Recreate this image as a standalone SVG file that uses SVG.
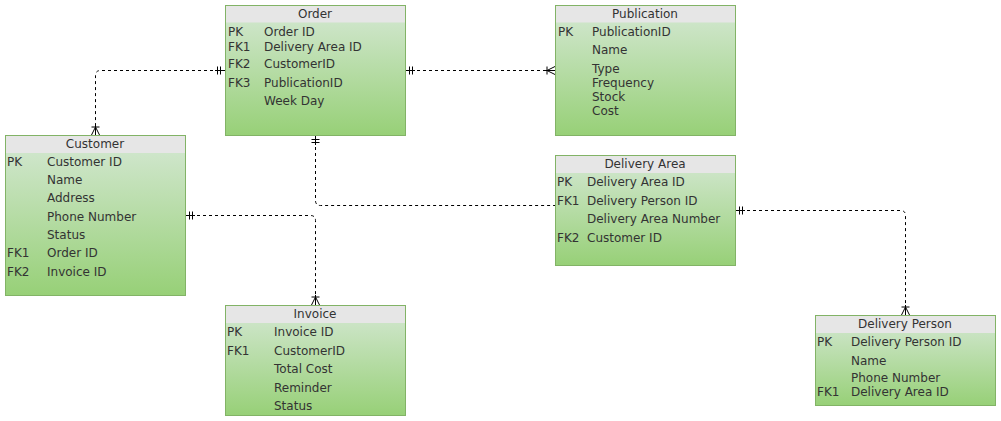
<svg xmlns="http://www.w3.org/2000/svg" width="1001" height="421" viewBox="0 0 1001 421">
<style>
.body{stroke:#82b366;stroke-width:1;fill:url(#g)}
.head{fill:#e6e6e6}
text{font-family:"DejaVu Sans",Verdana,sans-serif;font-size:12px;fill:#333}
.t{text-anchor:middle}
.c{fill:none;stroke:#000;stroke-width:1;stroke-dasharray:3 3}
.m{fill:none;stroke:#000;stroke-width:1}
</style>
<defs>
<linearGradient id="g" x1="0" y1="0" x2="0" y2="1">
<stop offset="0" stop-color="#d5e8d4"/>
<stop offset="1" stop-color="#97d077"/>
</linearGradient>
<marker id="one" viewBox="0 0 10 10" refX="10" refY="5" markerWidth="10" markerHeight="10" markerUnits="userSpaceOnUse" orient="auto-start-reverse">
<path class="m" d="M2.5,1V9M5.5,1V9M0,5H10"/>
</marker>
<marker id="many" viewBox="0 0 10 10" refX="10" refY="5" markerWidth="10" markerHeight="10" markerUnits="userSpaceOnUse" orient="auto-start-reverse">
<path class="m" d="M2,1V9M0,5H10M2,5L10,1M2,5L10,9"/>
</marker>
</defs>
<g id="connectors">
<path class="c" d="M225,70.5H100.5Q95.5,70.5 95.5,75.5V135" marker-start="url(#one)" marker-end="url(#many)"/>
<path class="c" d="M405,70.5H555" marker-start="url(#one)" marker-end="url(#many)"/>
<path class="c" d="M315.5,135V200.5Q315.5,205.5 320.5,205.5H555" marker-start="url(#one)"/>
<path class="c" d="M185,215.5H310.5Q315.5,215.5 315.5,220.5V305" marker-start="url(#one)" marker-end="url(#many)"/>
<path class="c" d="M735,210.5H900.5Q905.5,210.5 905.5,215.5V315" marker-start="url(#one)" marker-end="url(#many)"/>
</g>
<g id="order">
<rect class="body" x="225.5" y="5.5" width="180" height="130"/>
<rect class="head" x="226" y="6" width="179" height="16.5"/>
<text class="t" x="315" y="18">Order</text>
<text x="228" y="36">PK</text><text x="264" y="36">Order ID</text>
<text x="228" y="51">FK1</text><text x="264" y="51">Delivery Area ID</text>
<text x="228" y="68">FK2</text><text x="264" y="68">CustomerID</text>
<text x="228" y="87">FK3</text><text x="264" y="87">PublicationID</text>
<text x="264" y="105">Week Day</text>
</g>
<g id="publication">
<rect class="body" x="555.5" y="5.5" width="180" height="130"/>
<rect class="head" x="556" y="6" width="179" height="16.5"/>
<text class="t" x="645" y="18">Publication</text>
<text x="558" y="36">PK</text><text x="592" y="36">PublicationID</text>
<text x="592" y="54">Name</text>
<text x="592" y="73">Type</text>
<text x="592" y="87">Frequency</text>
<text x="592" y="101">Stock</text>
<text x="592" y="115">Cost</text>
</g>
<g id="customer">
<rect class="body" x="5.5" y="135.5" width="180" height="160"/>
<rect class="head" x="6" y="136" width="179" height="17"/>
<text class="t" x="95" y="148">Customer</text>
<text x="7" y="166">PK</text><text x="47" y="166">Customer ID</text>
<text x="47" y="184">Name</text>
<text x="47" y="202">Address</text>
<text x="47" y="221">Phone Number</text>
<text x="47" y="239">Status</text>
<text x="7" y="257">FK1</text><text x="47" y="257">Order ID</text>
<text x="7" y="276">FK2</text><text x="47" y="276">Invoice ID</text>
</g>
<g id="delivery-area">
<rect class="body" x="555.5" y="155.5" width="180" height="110"/>
<rect class="head" x="556" y="156" width="179" height="17"/>
<text class="t" x="645" y="168">Delivery Area</text>
<text x="557" y="186">PK</text><text x="587" y="186">Delivery Area ID</text>
<text x="557" y="205">FK1</text><text x="587" y="205">Delivery Person ID</text>
<text x="587" y="223">Delivery Area Number</text>
<text x="557" y="242">FK2</text><text x="587" y="242">Customer ID</text>
</g>
<g id="invoice">
<rect class="body" x="225.5" y="305.5" width="180" height="110"/>
<rect class="head" x="226" y="306" width="179" height="17"/>
<text class="t" x="315" y="318">Invoice</text>
<text x="227" y="336">PK</text><text x="274" y="336">Invoice ID</text>
<text x="227" y="355">FK1</text><text x="274" y="355">CustomerID</text>
<text x="274" y="373">Total Cost</text>
<text x="274" y="392">Reminder</text>
<text x="274" y="410">Status</text>
</g>
<g id="delivery-person">
<rect class="body" x="815.5" y="315.5" width="180" height="90"/>
<rect class="head" x="816" y="316" width="179" height="17"/>
<text class="t" x="905" y="328">Delivery Person</text>
<text x="817" y="346">PK</text><text x="851" y="346">Delivery Person ID</text>
<text x="851" y="365">Name</text>
<text x="851" y="382">Phone Number</text>
<text x="817" y="396">FK1</text><text x="851" y="396">Delivery Area ID</text>
</g>
</svg>
